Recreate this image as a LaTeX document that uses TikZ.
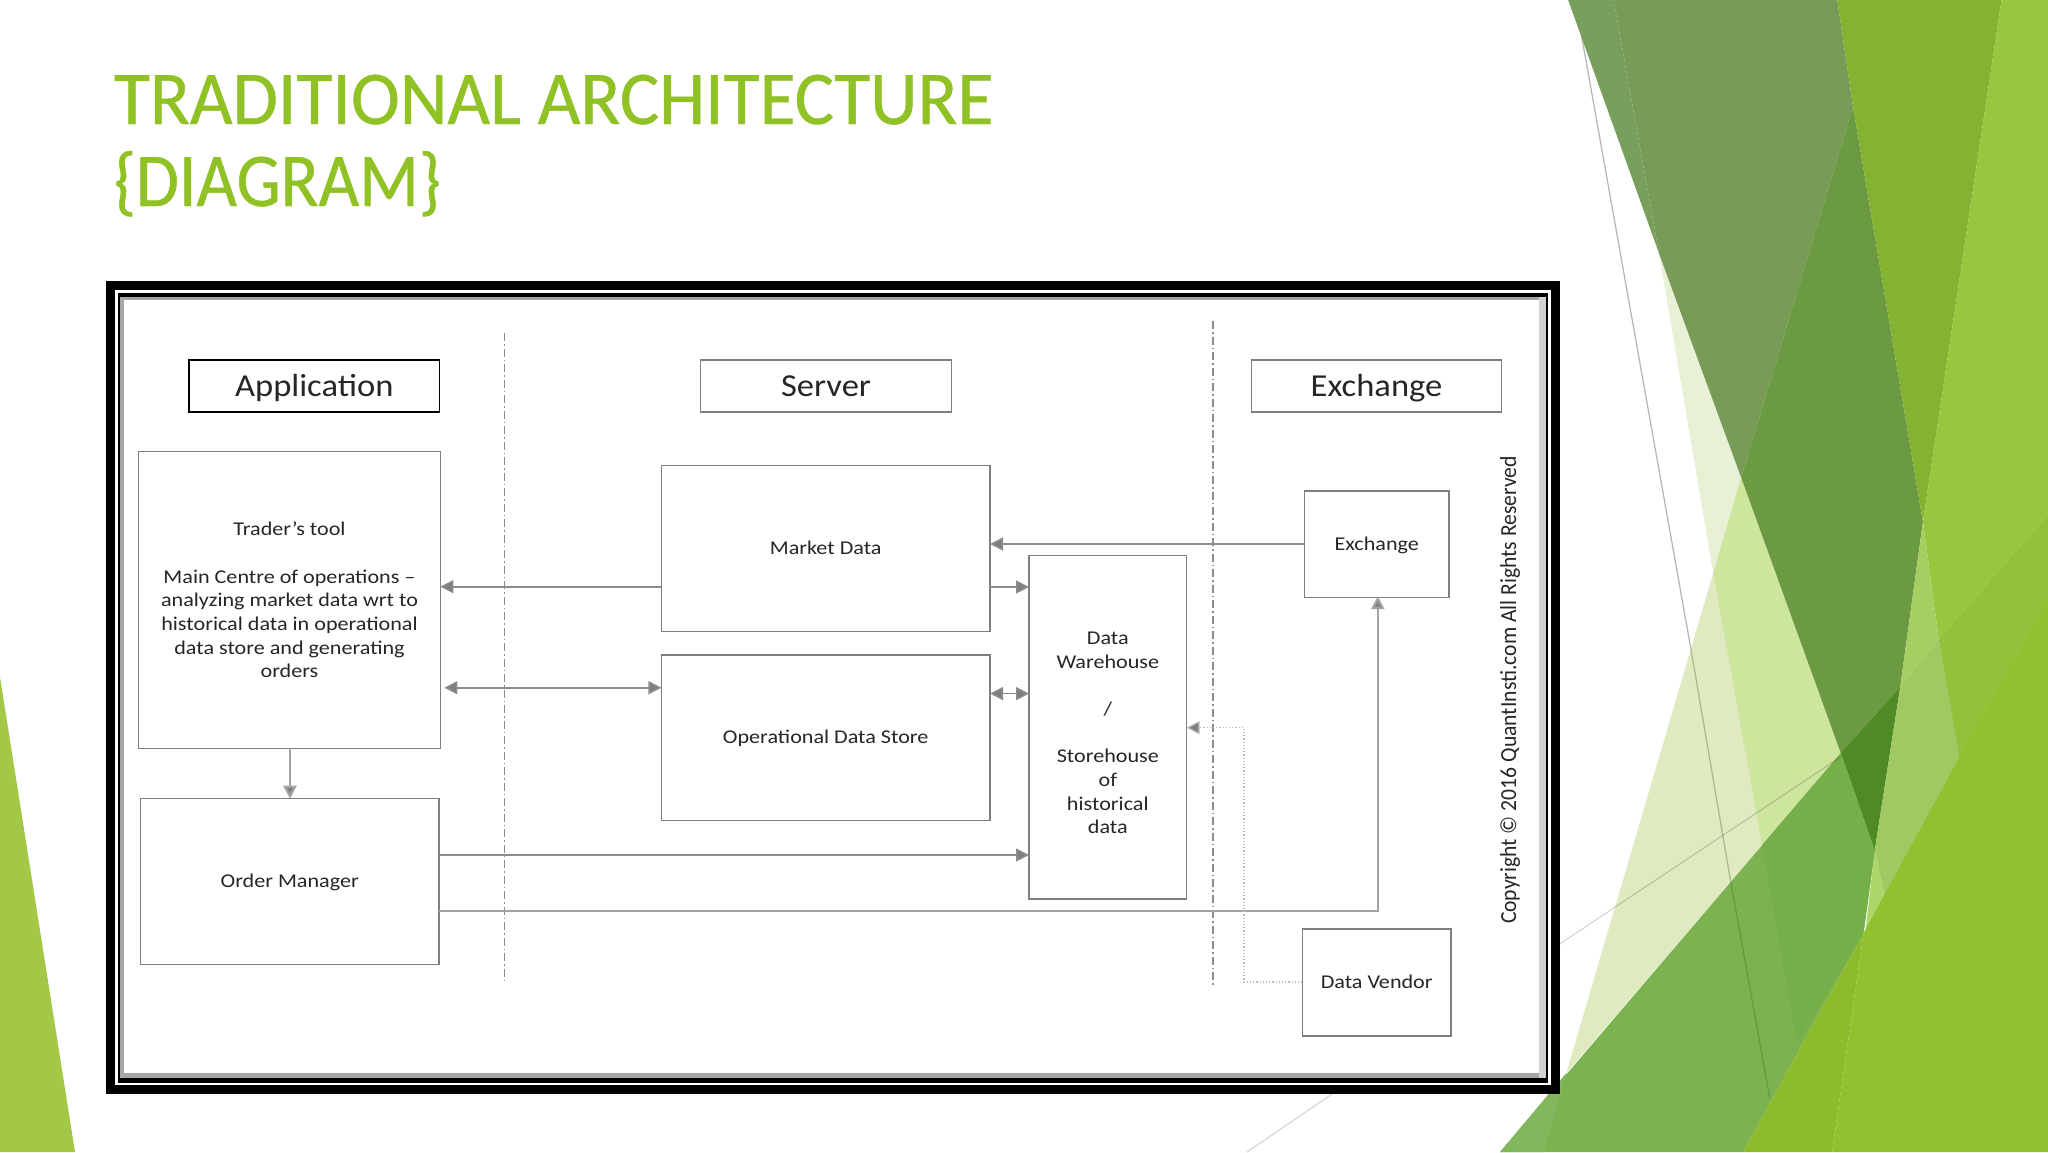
\documentclass[tikz,border=0pt]{standalone}
\usepackage{fontspec}
\usetikzlibrary{arrows.meta}
\setmainfont{Carlito}
\newfontfamily\bodyfont[FakeStretch=1.135]{Carlito}
\newfontfamily\headfont[FakeStretch=1.08]{Carlito}
\newfontfamily\copyfont[FakeStretch=0.94]{Carlito}
\newfontfamily\titlefontA[FakeStretch=0.97,FakeBold=0.6]{Carlito}
\newfontfamily\titlefontB[FakeStretch=0.92,FakeBold=0.6]{Carlito}
\definecolor{titlegreen}{HTML}{90C226}
\definecolor{ink}{HTML}{262626}
\definecolor{edge}{HTML}{7F7F7F}
\definecolor{wire}{HTML}{8C8C8C}
\definecolor{palewire}{HTML}{A3A3A3}
\definecolor{fa}{HTML}{A2C845}
\definecolor{fb}{HTML}{DFEAC1}
\definecolor{fc}{HTML}{E8F1D5}
\definecolor{fd}{HTML}{CEE59E}
\definecolor{fe}{HTML}{78A05C}
\definecolor{ff}{HTML}{789C58}
\definecolor{fg}{HTML}{6B9A42}
\definecolor{fh}{HTML}{4F8A24}
\definecolor{fi}{HTML}{84B231}
\definecolor{fj}{HTML}{98C63F}
\definecolor{fk}{HTML}{93C13A}
\definecolor{fl}{HTML}{A5CF63}
\definecolor{fm}{HTML}{A0C863}
\definecolor{fn}{HTML}{ACD56A}
\definecolor{fo}{HTML}{8DBB2B}
\definecolor{fp}{HTML}{92C12F}
\definecolor{fq}{HTML}{7CB24F}
\definecolor{fr}{HTML}{75AF49}
\definecolor{fs}{HTML}{82B75D}
\tikzset{
  px/.style={x=1pt,y=-1pt},
  facet/.style={shift={(1500pt,0pt)},x=0.34953pt,y=-0.73475pt},
  titletext/.style={anchor=base west,inner sep=0,outer sep=0,text=titlegreen},
  boxnode/.style={draw=edge,line width=1.4pt,fill=white,inner sep=0,outer sep=0,align=center,text=ink,font=\bodyfont\fontsize{19.5}{23.7}\selectfont},
  oneline/.style={text height=14pt,text depth=2pt},
  headbox/.style={boxnode,font=\headfont\fontsize{32}{34}\selectfont,minimum width=250.5pt,minimum height=52pt,text height=24pt,text depth=4pt},
  plaintext/.style={inner sep=0,outer sep=0,align=center,text=ink,font=\bodyfont\fontsize{19.5}{23.7}\selectfont},
  flow/.style={draw=wire,line width=1.6pt,-{Triangle[length=13pt,width=13pt,fill=edge]}},
  bothflow/.style={draw=wire,line width=1.6pt,{Triangle[length=13pt,width=13pt,fill=edge]}-{Triangle[length=13pt,width=13pt,fill=edge]}},
  paleflow/.style={flow,draw=palewire,line width=2.2pt},
  dotflow/.style={draw=wire!60,line width=1.2pt,dotted,-{Triangle[length=13pt,width=13pt,fill=edge]}},
  zone/.style={draw=wire,line width=1.2pt,dash pattern=on 8pt off 3pt on 1.5pt off 3pt},
}
\begin{document}
\begin{tikzpicture}[px]
\useasboundingbox (0,0) rectangle (2048,1152);
\fill[white] (0,0) rectangle (2048,1152);
% left facet
\fill[fa] (0,677) -- (75,1152) -- (0,1152) -- cycle;
% right facets, in the crop's own coordinates
\begin{scope}[facet]
\draw[black,opacity=.28,line width=1.3pt] (215,0) -- (545,880);
\fill[fb] (690,650) -- (750,1150) -- (190,1460) -- cycle;
\fill[fc] (455,345) -- (690,650) -- (610,780) -- cycle;
\fill[fd] (690,650) -- (975,1025) -- (750,1150) -- (610,780) -- cycle;
\fill[fe] (195,0) -- (325,0) -- (455,345) -- cycle;
\fill[ff] (325,0) -- (965,0) -- (1010,145) -- (690,650) -- (455,345) -- cycle;
\fill[fg] (1010,145) -- (1210,710) -- (1145,935) -- (975,1025) -- (690,650) -- cycle;
\fill[fh] (975,1025) -- (1145,935) -- (1072,1158) -- cycle;
\fill[fi] (965,0) -- (1435,0) -- (1210,710) -- (1010,145) -- cycle;
\fill[fj] (1435,0) -- (1568,0) -- (1568,700) -- (1255,870) -- (1210,710) -- cycle;
\fill[fk] (1568,700) -- (1568,840) -- (1315,1050) -- (1255,870) -- cycle;
\fill[fl] (1210,710) -- (1255,870) -- (1145,935) -- cycle;
\fill[fm] (1145,935) -- (1255,870) -- (1315,1030) -- (1315,1060) -- (1110,1240) -- (1072,1158) -- cycle;
\fill[fn] (1072,1158) -- (1110,1240) -- (1040,1290) -- cycle;
\fill[fq] (975,1025) -- (1072,1158) -- (1040,1270) -- (695,1568) -- (0,1568) -- cycle;
\fill[fr] (750,1150) -- (975,1025) -- (1072,1158) -- (1040,1270) -- (850,1420) -- cycle;
\fill[fs] (190,1460) -- (125,1568) -- (0,1568) -- cycle;
\fill[fo] (695,1568) -- (1040,1270) -- (950,1568) -- cycle;
\fill[fp] (950,1568) -- (1040,1270) -- (1315,1030) -- (1568,820) -- (1568,1568) -- cycle;
\draw[black,opacity=.22,line width=1.3pt] (545,880) -- (660,1200);
\draw[black,opacity=.14,line width=1.3pt] (660,1200) -- (772,1495);
\draw[black,opacity=.16,line width=1.2pt] (170,1285) -- (975,1030);
\end{scope}
\draw[black,opacity=.16,line width=1.2pt] (1247,1152) -- (1332,1094);
% title
\node[titletext,font=\titlefontA\fontsize{76}{80}\selectfont] (titleA) at (114,124) {TRADITIONAL ARCHITECTURE};
\node[titletext,font=\titlefontB\fontsize{76}{80}\selectfont] (titleB) at (114,206) {\{DIAGRAM\}};
% picture frame
\fill[black] (106,281) rectangle (1559.5,1094);
\fill[white] (115,290) rectangle (1551,1085);
\fill[black] (117.5,293) rectangle (1548,1082.7);
\fill[black!35] (120,297) rectangle (1545.5,1077.7);
\fill[black!18] (1539,297) rectangle (1545.5,1077.7);
\fill[white] (124,300) rectangle (1539,1073);
% zone separators
\coordinate (zoneAtop) at (504.3,333);
\coordinate (zoneAend) at (504.3,980);
\coordinate (zoneBtop) at (1213,321);
\coordinate (zoneBend) at (1213,986);
\draw[zone] (zoneAtop) -- (zoneAend);
\draw[zone] (zoneBtop) -- (zoneBend);
% headers
\node[headbox,draw=black] (happ) at (314.3,386) {Application};
\node[headbox] (hsrv) at (826,386) {Server};
\node[headbox] (hexc) at (1376.5,386) {Exchange};
% boxes
\node[boxnode,minimum width=301.7pt,minimum height=296.6pt] (trader) at (289.5,600) {Trader’s tool\\[23.7pt]Main Centre of operations –\\analyzing market data wrt to\\historical data in operational\\data store and generating\\orders};
\node[boxnode,oneline,minimum width=298.7pt,minimum height=165.6pt] (order) at (289.7,881.5) {Order Manager};
\node[boxnode,oneline,minimum width=328.6pt,minimum height=166pt] (market) at (825.7,548.3) {Market Data};
\node[boxnode,oneline,minimum width=328.6pt,minimum height=165.7pt] (ods) at (825.7,737.8) {Operational Data Store};
\node[boxnode,minimum width=157.5pt,minimum height=343.5pt] (ware) at (1107.8,727.2) {};
\node[plaintext] (waretext) at (1107.8,733) {Data\\Warehouse\\[23.7pt]/\\[23.7pt]Storehouse\\of\\historical\\data};
\node[boxnode,oneline,minimum width=144.7pt,minimum height=106.2pt] (exch) at (1376.7,544.1) {Exchange};
\node[boxnode,oneline,minimum width=148.7pt,minimum height=106.8pt] (vendor) at (1376.7,982.4) {Data Vendor};
\node[plaintext,rotate=90,font=\copyfont\fontsize{23}{26}\selectfont] (copy) at (1510,690) {Copyright © 2016 QuantInsti.com All Rights Reserved};
% connector levels
\coordinate (lvA) at (0,586.7);
\coordinate (lvB) at (0,687.7);
\coordinate (lvC) at (0,855);
\coordinate (lvD) at (0,910.6);
\coordinate (lvE) at (0,544);
\coordinate (lvF) at (0,587);
\coordinate (lvG) at (0,693.6);
\coordinate (lvH) at (0,727.7);
\coordinate (lvI) at (0,982);
\coordinate (colA) at (290,0);
\coordinate (colB) at (1377.8,0);
\coordinate (colC) at (1244,0);
% connectors
\draw[flow] (market.west |- lvA) -- (trader.east |- lvA);
\draw[bothflow] ([xshift=4pt]trader.east |- lvB) -- (ods.west |- lvB);
\draw[paleflow] (colA |- trader.south) -- (colA |- order.north);
\draw[flow] (order.east |- lvC) -- (ware.west |- lvC);
\draw[paleflow] (order.east |- lvD) -- (colB |- lvD) -- ([yshift=1pt]colB |- exch.south);
\draw[flow] (exch.west |- lvE) -- (market.east |- lvE);
\draw[flow] (market.east |- lvF) -- (ware.west |- lvF);
\draw[bothflow] (ods.east |- lvG) -- (ware.west |- lvG);
\draw[dotflow] (vendor.west |- lvI) -- (colC |- lvI) -- (colC |- lvH) -- (ware.east |- lvH);
\end{tikzpicture}
\end{document}
